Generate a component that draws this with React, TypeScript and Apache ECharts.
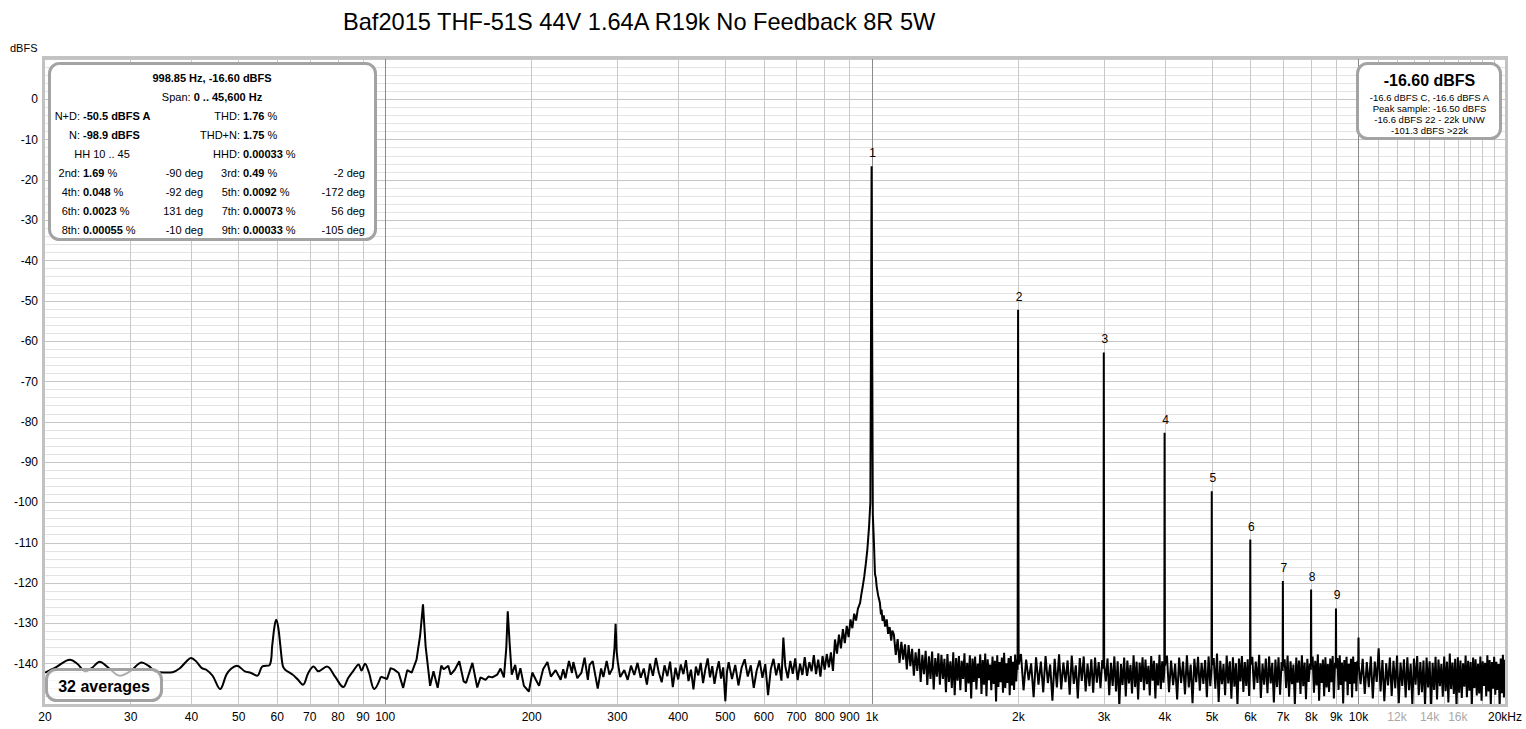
import React, { useEffect, useRef } from "react";
import * as echarts from "echarts";

// ---------------- data ----------------
const TITLE = "Baf2015 THF-51S 44V 1.64A R19k No Feedback 8R 5W";
const Y_NAME = "dBFS";
const Y_TICKS = [0, -10, -20, -30, -40, -50, -60, -70, -80, -90, -100, -110, -120, -130, -140];

const X_LABEL_HZ = [20, 30, 40, 50, 60, 70, 80, 90, 100, 200, 300, 400, 500, 600, 700, 800, 900, 1000, 2000, 3000, 4000, 5000, 6000, 7000, 8000, 9000, 10000, 12000, 14000, 16000, 20000];
const X_LABEL_TEXT = ["20", "30", "40", "50", "60", "70", "80", "90", "100", "200", "300", "400", "500", "600", "700", "800", "900", "1k", "2k", "3k", "4k", "5k", "6k", "7k", "8k", "9k", "10k", "12k", "14k", "16k", "20kHz"];
const X_LABEL_DIM = ["12k", "14k", "16k"];

const GRID_MINOR_HZ = [30, 40, 50, 60, 70, 80, 90, 200, 300, 400, 500, 600, 700, 800, 900, 2000, 3000, 4000, 5000, 6000, 7000, 8000, 9000, 11000, 12000, 13000, 14000, 15000, 16000, 17000, 18000, 19000];
const GRID_DECADE_HZ = [100, 1000, 10000];

// harmonics (peak frequency, peak level)
const HARM_FREQ = [998.85, 1997.7, 2996.6, 3995.4, 4994.3, 5993.1, 6992, 7990.8, 8989.7];
const HARM_DB = [-16.6, -52.2, -62.8, -82.7, -97.2, -109.2, -119.5, -121.6, -126.3];
const HARM_LABELS = ["1", "2", "3", "4", "5", "6", "7", "8", "9"];

// spectrum [Hz, dBFS]
const LF = [[20, -142.2], [21, -141.0], [22.5, -139.0], [23.3, -140.0], [24.2, -141.9], [25, -141.0], [25.9, -139.5], [27, -141.0], [28.5, -143.0], [30, -141.8], [31.6, -139.7], [32.6, -140.5], [33.7, -141.9], [34.4, -142.1], [35.5, -142.2], [36.6, -142.1], [37.8, -141.2], [39, -139.5], [39.9, -138.6], [40.8, -139.3], [42, -141.1], [42.9, -141.5], [44.2, -143.0], [45.8, -146.3], [47.2, -142.7], [48.3, -141.2], [49.6, -140.5], [51.5, -141.9], [53, -142.3], [54.6, -143.0], [55.9, -140.7], [57.9, -140.3], [58.6, -135.5], [59.2, -131], [59.7, -129.1], [60.3, -131], [60.9, -135.5], [61.6, -140.5], [62.3, -141.5], [64.5, -142.7], [66, -143.8], [67.8, -145.2], [69.5, -142.3], [71.3, -140.7], [72.9, -141.9], [75.9, -140.7], [78.9, -143.2], [82, -145.8], [84, -143.5], [86.1, -141.7], [88.2, -140.2], [89.4, -141.7], [90.9, -140.0], [92.5, -142.0], [95, -146.3], [98, -143.2]];

const MF_A = [[100.9, -143.8], [102.6, -141.1], [104.2, -141.4], [106.6, -142.3], [108.9, -146.0], [111, -141.6], [113.4, -142.2], [116, -139.0], [118, -133], [119.6, -125.3], [121.1, -135.7], [123.7, -145.5], [125.7, -141.9], [128.2, -146.0], [130.4, -140.5], [132, -141.4], [134.8, -140.5], [136.3, -142.7], [139, -141.5], [142, -139.4], [145, -144.4], [146.6, -144.8], [151.1, -139.8], [154.6, -145.9], [157, -143.4], [160.8, -144.0], [163, -143.2], [166, -143.4], [170, -142.7], [172.6, -141.2], [175.4, -143.4], [177.4, -136], [178.6, -127.0], [180.2, -134.9], [182, -142.7], [185, -140.3], [187.1, -144.0], [189.6, -141.1], [192.8, -145.5], [197.4, -146.9], [200.6, -142.2], [204, -144.0], [207.1, -145.5], [211.1, -141.4], [215.5, -139.6], [219, -143.2], [224, -141.6], [229.4, -144.0], [232.2, -141.4], [234.6, -143.6], [238.6, -139.3], [242, -142.3], [243.6, -139.6], [248.2, -143.6], [253, -142.3], [256.9, -138.5], [260.9, -144.0], [263, -140.3], [267, -139.4], [273.4, -146.2], [277.8, -141.2], [280.8, -143.3], [285.2, -139.3], [288.9, -142.7], [293.4, -141.1], [296, -136], [297.5, -130.1], [299, -137], [300.5, -139.5], [304, -143.3], [310, -141.6], [315, -144.0]];

const MF_B = [[320, -140.5], [325, -142.8], [330, -139.8], [335, -143.5], [340, -141.2], [345, -145.2], [350, -140.0], [355, -143.0], [360, -138.6], [365, -142.2], [370, -144.6], [375, -140.4], [380, -143.1], [385, -139.5], [390, -145.8], [395, -141.0], [400, -143.9], [405, -140.2], [410, -142.6], [415, -139.1], [420, -144.3], [425, -141.5], [430, -146.4], [435, -140.7], [440, -142.9], [445, -139.8], [450, -144.8], [455, -141.3], [460, -138.7], [465, -143.4], [470, -140.6], [475, -145.0], [480, -141.8], [485, -139.4], [490, -143.7], [495, -140.9], [500, -149.3], [504, -142.0], [508, -139.6], [516, -143.8], [524, -140.3], [532, -145.4], [540, -141.0], [548, -138.9], [556, -143.2], [564, -140.4], [572, -146.0], [580, -141.7], [588, -139.2], [596, -143.5], [604, -140.1], [612, -147.8], [620, -141.4], [628, -138.8], [636, -142.9], [644, -139.9], [652, -144.2], [658, -133.5], [664, -140.6], [672, -143.6], [680, -139.3], [688, -142.5], [696, -138.7], [704, -144.1], [712, -140.0], [720, -142.8], [728, -138.4], [736, -143.0], [744, -139.6], [752, -141.9], [760, -137.9], [768, -142.6], [776, -139.0], [784, -143.2], [792, -138.1], [800, -141.5], [808, -137.6], [816, -140.9], [824, -137.2], [832, -141.8], [840, -134.0], [848, -137.5], [856, -132.8], [864, -136.2], [872, -131.4], [880, -134.9], [888, -130.6], [896, -133.4], [904, -129.0], [912, -131.2], [920, -127.6], [928, -129.3], [936, -126.4], [946, -124.9], [952, -122.7], [958, -120.8], [965, -118.3], [972, -115.2], [979, -111.7], [987, -106], [993, -100], [996, -60], [1001.7, -60], [1004.7, -103], [1010, -110], [1015, -117.8], [1019, -118.6], [1023, -120.8], [1030, -123.0], [1039, -124.9], [1044, -127.8], [1047, -126.6], [1052, -129.4], [1058, -128.0], [1065, -130.8], [1073, -129.0], [1080, -132.6], [1088, -130.9], [1096, -134.3], [1102, -131.8]];

const HF_A = [[1110, -132.8], [1120, -137.8], [1130, -133.9], [1140, -139.8], [1150, -134.6], [1160, -139.0], [1170, -135.2], [1180, -141.4], [1190, -135.4], [1200, -140.6],
[1210, -136.3], [1220, -143.0], [1230, -137.2], [1240, -141.8], [1250, -136.3], [1260, -144.5], [1270, -137.8], [1280, -142.6], [1290, -136.8], [1300, -145.3],
[1310, -138.2], [1320, -143.8], [1330, -137.0], [1340, -146.4], [1350, -138.6], [1360, -143.2], [1370, -137.4], [1380, -145.2], [1390, -137.8], [1400, -143.8],
[1410, -138.8], [1420, -147.1], [1430, -137.6], [1440, -144.5], [1450, -139.4], [1460, -146.0], [1470, -137.2], [1480, -147.8], [1490, -138.6], [1500, -144.2],
[1510, -138.1], [1520, -146.6], [1530, -139.3], [1540, -143.8], [1550, -137.4], [1560, -147.0], [1570, -139.8], [1580, -144.9], [1590, -137.9], [1600, -148.6],
[1610, -138.7], [1620, -144.5], [1630, -138.2], [1640, -146.4], [1650, -140.0], [1660, -143.6], [1670, -137.7], [1680, -147.5], [1690, -139.1], [1700, -145.2],
[1710, -137.5], [1720, -148.1], [1730, -138.9], [1740, -144.1], [1750, -140.2], [1760, -146.6], [1770, -138.2], [1780, -145.0], [1790, -139.3], [1800, -149.4],
[1810, -137.9], [1820, -145.8], [1830, -139.6], [1840, -144.6], [1850, -138.5], [1860, -147.2], [1870, -137.3], [1880, -146.0], [1890, -139.9], [1900, -144.8],
[1910, -138.6], [1920, -147.8], [1930, -138.1], [1940, -145.4], [1950, -139.5], [1960, -146.5], [1970, -137.7], [1980, -144.4], [1990, -139.0], [1993, -141.5], [2003, -140.2]];

const HF_B = [[2025, -137.6], [2050, -146.6], [2075, -139.0], [2100, -144.1], [2125, -139.9], [2150, -148.3], [2175, -138.4], [2200, -145.2], [2225, -139.5], [2250, -147.1],
[2275, -138.1], [2300, -144.8], [2325, -140.2], [2350, -149.2], [2375, -138.8], [2400, -145.9], [2425, -137.7], [2450, -146.4], [2475, -139.7], [2500, -144.6],
[2525, -139.2], [2550, -147.7], [2575, -138.0], [2600, -145.0], [2625, -140.4], [2650, -148.6], [2675, -138.6], [2700, -144.3], [2725, -138.2], [2750, -146.9],
[2775, -140.0], [2800, -145.6], [2825, -138.9], [2850, -147.2], [2875, -138.5], [2900, -144.7], [2925, -139.6], [2950, -146.1], [2975, -139.1], [2992, -141.2], [3002, -140.1],
[3025, -144.4], [3050, -138.7], [3075, -147.8], [3100, -139.8], [3125, -145.5], [3150, -138.2], [3175, -146.9], [3200, -139.4], [3225, -150.5], [3250, -140.1],
[3275, -145.3], [3300, -138.5], [3325, -148.1], [3350, -139.2], [3375, -144.9], [3400, -140.3], [3425, -147.4], [3450, -137.9], [3475, -145.8], [3500, -139.5],
[3525, -148.9], [3550, -139.7], [3575, -144.5], [3600, -138.4], [3625, -146.6], [3650, -139.0], [3675, -145.1], [3700, -140.5], [3725, -147.9], [3750, -138.1],
[3775, -144.2], [3800, -139.3], [3825, -148.6], [3850, -139.9], [3875, -145.4], [3900, -137.8], [3925, -146.3], [3950, -139.4], [3975, -144.7], [3990, -141.6], [4001, -140.5]];

const HF_C = [[4040, -138.0], [4080, -147.1], [4120, -139.2], [4160, -145.3], [4200, -140.0], [4240, -148.9], [4280, -138.5], [4320, -144.8], [4360, -139.5], [4400, -147.6],
[4440, -137.9], [4480, -145.9], [4520, -140.2], [4560, -149.8], [4600, -138.8], [4640, -144.6], [4680, -138.3], [4720, -146.7], [4760, -139.8], [4800, -145.0],
[4840, -139.1], [4880, -148.3], [4920, -138.2], [4960, -145.6], [4988, -141.4], [5001, -140.3],
[5040, -138.6], [5080, -146.2], [5120, -137.5], [5160, -149.5], [5200, -139.3], [5240, -145.1], [5280, -140.1], [5320, -147.8], [5360, -138.0], [5400, -144.9],
[5440, -139.4], [5480, -148.7], [5520, -138.4], [5560, -145.7], [5600, -139.9], [5640, -150.3], [5680, -138.7], [5720, -144.4], [5760, -138.1], [5800, -147.0],
[5840, -139.6], [5880, -145.5], [5920, -138.9], [5960, -148.0], [5986, -141.1], [6000, -140.2],
[6050, -138.3], [6100, -146.4], [6150, -139.5], [6200, -144.8], [6250, -137.8], [6300, -148.5], [6350, -140.0], [6400, -145.2], [6450, -138.7], [6500, -147.3],
[6550, -138.2], [6600, -144.9], [6650, -139.8], [6700, -149.6], [6750, -139.0], [6800, -145.8], [6850, -138.4], [6900, -147.7], [6950, -139.6], [6984, -141.8], [7000, -140.7],
[7050, -138.9], [7100, -146.0], [7150, -138.0], [7200, -148.2], [7250, -139.4], [7300, -145.1], [7350, -140.2], [7400, -150.2], [7450, -138.5], [7500, -144.7],
[7550, -139.2], [7600, -147.5], [7650, -137.9], [7700, -145.6], [7750, -139.7], [7800, -148.8], [7850, -138.8], [7900, -144.5], [7950, -140.0], [7982, -141.5], [7999, -140.4],
[8050, -138.2], [8100, -147.2], [8150, -139.3], [8200, -145.4], [8250, -137.7], [8300, -149.2], [8350, -139.9], [8400, -144.8], [8450, -139.0], [8500, -148.1],
[8550, -138.4], [8600, -145.9], [8650, -140.1], [8700, -147.0], [8750, -138.7], [8800, -144.6], [8850, -138.1], [8900, -148.6], [8950, -139.8], [8980, -141.2], [8999, -140.2],
[9050, -138.6], [9100, -146.5], [9150, -137.9], [9200, -145.3], [9250, -139.7], [9300, -149.9], [9350, -139.1], [9400, -144.4], [9450, -138.3], [9500, -147.8],
[9550, -140.0], [9600, -145.0], [9650, -138.8], [9700, -148.4], [9750, -138.2], [9800, -144.9], [9850, -139.6], [9900, -146.8], [9950, -139.3], [9985, -141.3], [10000, -133.5], [10015, -140.6]];

const HF_D = [[10100, -145.1], [10200, -138.8], [10300, -147.5], [10400, -139.6], [10500, -145.8], [10600, -138.2], [10700, -148.6], [10800, -139.5], [10900, -144.5], [11000, -136.2],
[11100, -146.9], [11200, -139.1], [11300, -149.3], [11400, -139.9], [11500, -145.4], [11600, -138.5], [11700, -148.0], [11800, -139.3], [11900, -146.1], [12000, -138.0],
[12100, -149.8], [12200, -139.7], [12300, -145.5], [12400, -138.9], [12500, -148.4], [12600, -138.4], [12700, -146.6], [12800, -140.0], [12900, -150.2], [13000, -138.7],
[13100, -145.2], [13200, -138.1], [13300, -147.8], [13400, -139.6], [13500, -147.1], [13600, -139.2], [13700, -150.4], [13800, -138.5], [13900, -145.9], [14000, -139.4],
[14100, -151.0], [14200, -139.8], [14300, -146.5], [14400, -138.3], [14500, -148.9], [14600, -139.0], [14700, -145.6], [14800, -140.1], [14900, -148.2], [15000, -138.2],
[15100, -146.8], [15200, -139.5], [15300, -149.6], [15400, -137.5], [15500, -146.3], [15600, -139.7], [15700, -147.5], [15800, -138.8], [15900, -150.6], [16000, -138.4],
[16100, -147.2], [16200, -139.2], [16300, -148.5], [16400, -139.9], [16500, -145.7], [16600, -138.0], [16700, -148.3], [16800, -139.3], [16900, -146.7], [17000, -139.6],
[17100, -150.0], [17200, -138.5], [17300, -146.0], [17400, -138.9], [17500, -147.9], [17600, -140.0], [17700, -147.4], [17800, -138.2], [17900, -149.2], [18000, -139.4],
[18100, -145.5], [18200, -139.8], [18300, -148.1], [18400, -137.9], [18500, -146.9], [18600, -139.1], [18700, -150.4], [18800, -139.6], [18900, -146.2], [19000, -138.3],
[19100, -147.7], [19200, -139.5], [19300, -146.5], [19400, -140.1], [19500, -151.0], [19600, -138.7], [19700, -147.3], [19800, -137.8], [19900, -148.4], [20000, -139.0]];

// info box texts
const INFO_HEAD = "998.85 Hz, -16.60 dBFS";
const INFO_SPAN = "0 .. 45,600 Hz";
const INFO_ND = "-50.5 dBFS A";
const INFO_N = "-98.9 dBFS";
const INFO_THD = "1.76";
const INFO_THDN = "1.75";
const INFO_HH = "HH 10 .. 45";
const INFO_HHD = "0.00033";
const ORD_NAMES = ["2nd", "3rd", "4th", "5th", "6th", "7th", "8th", "9th"];
const ORD_PCT = ["1.69", "0.49", "0.048", "0.0092", "0.0023", "0.00073", "0.00055", "0.00033"];
const ORD_DEG = [-90, -2, -92, -172, 131, 56, -10, -105];
const LEVEL_BIG = "-16.60 dBFS";
const LEVEL_LINES = ["-16.6 dBFS C, -16.6 dBFS A", "Peak sample: -16.50 dBFS", "-16.6 dBFS 22 - 22k UNW", "-101.3 dBFS >22k"];
const AVERAGES = "32 averages";

// ---------------- chart ----------------
const FONT = "'Liberation Sans', Arial, Helvetica, sans-serif";

const RICH = {
  b: { fontFamily: FONT, fontSize: 11, fontWeight: "bold", fill: "#000" },
  n: { fontFamily: FONT, fontSize: 11, fontWeight: "normal", fill: "#000" },
};

function txt(x: number, y: number, text: string, align = "left", size = 11, weight = "normal", color = "#000") {
  return {
    type: "text",
    x,
    y,
    z: 120,
    silent: true,
    style: {
      text,
      fill: color,
      font: `${weight} ${size}px ${FONT}`,
      align,
      verticalAlign: "middle",
      textAlign: align,
      textVerticalAlign: "middle",
      rich: RICH,
    },
  };
}

function box(x: number, y: number, w: number, h: number, fill: string) {
  return {
    type: "rect",
    z: 110,
    silent: true,
    shape: { x, y, width: w, height: h, r: 10 },
    style: { fill, stroke: "#a3a3a3", lineWidth: 3 },
  };
}

function buildOption() {
  const harmPoints = HARM_FREQ.map((f, i) => [f, HARM_DB[i]]);
  const rest = [LF[LF.length - 1], ...MF_A, ...MF_B, ...HF_A, ...HF_B, ...HF_C, ...HF_D, ...harmPoints].sort(
    (a, b) => a[0] - b[0]
  );

  const gridLines = [
    ...GRID_MINOR_HZ.map((f) => ({ xAxis: f, lineStyle: { color: "#c8c8c8", width: 1, type: "solid" } })),
    ...GRID_DECADE_HZ.map((f) => ({ xAxis: f, lineStyle: { color: "#8a8a8a", width: 1, type: "solid" } })),
  ];

  const graphics: any[] = [];
  graphics.push(txt(343, 21.5, TITLE, "left", 23.6));
  graphics.push(txt(10, 48, Y_NAME, "left", 11));
  graphics.push({
    type: "rect",
    z: 60,
    silent: true,
    shape: { x: 43.5, y: 57.5, width: 1463, height: 648 },
    style: { fill: "none", stroke: "#c2c2c2", lineWidth: 3 },
  });

  // harmonic number labels, placed through the axes' scales
  const harmLabelGraphics = (chart: any) =>
    HARM_FREQ.map((f, i) => {
      const p = chart.convertToPixel({ gridIndex: 0 }, [f, HARM_DB[i]]);
      return txt(p[0] + 1, p[1] - 13, HARM_LABELS[i], "center", 12);
    });

  // left info box
  graphics.push(box(49.5, 63.5, 326, 176, "#ffffff"));
  graphics.push(txt(212, 78, `{b|${INFO_HEAD}}`, "center"));
  graphics.push(txt(212, 97, `{n|Span: }{b|${INFO_SPAN}}`, "center"));
  graphics.push(txt(80, 116, "N+D:", "right"));
  graphics.push(txt(83, 116, `{b|${INFO_ND}}`, "left"));
  graphics.push(txt(240, 116, "THD:", "right"));
  graphics.push(txt(243, 116, `{b|${INFO_THD}}{n| %}`, "left"));
  graphics.push(txt(80, 134.5, "N:", "right"));
  graphics.push(txt(83, 134.5, `{b|${INFO_N}}`, "left"));
  graphics.push(txt(240, 134.5, "THD+N:", "right"));
  graphics.push(txt(243, 134.5, `{b|${INFO_THDN}}{n| %}`, "left"));
  graphics.push(txt(102, 153.5, INFO_HH, "center"));
  graphics.push(txt(240, 153.5, "HHD:", "right"));
  graphics.push(txt(243, 153.5, `{b|${INFO_HHD}}{n| %}`, "left"));
  for (let r = 0; r < 4; r++) {
    const y = 172.5 + 19 * r;
    const i = 2 * r;
    const j = 2 * r + 1;
    graphics.push(txt(80, y, `${ORD_NAMES[i]}:`, "right"));
    graphics.push(txt(83, y, `{b|${ORD_PCT[i]}}{n| %}`, "left"));
    graphics.push(txt(203, y, `${ORD_DEG[i]} deg`, "right"));
    graphics.push(txt(240, y, `${ORD_NAMES[j]}:`, "right"));
    graphics.push(txt(243, y, `{b|${ORD_PCT[j]}}{n| %}`, "left"));
    graphics.push(txt(365, y, `${ORD_DEG[j]} deg`, "right"));
  }

  // right level box
  graphics.push(box(1357.5, 63.5, 143, 75, "#ffffff"));
  graphics.push(txt(1429.5, 80, LEVEL_BIG, "center", 16, "bold"));
  LEVEL_LINES.forEach((s, k) => {
    graphics.push(txt(1429.5, 97.7 + 10.8 * k, s, "center", 9.5));
  });

  // averages box
  graphics.push(box(46.5, 669.5, 115, 31, "rgba(255,255,255,0.68)"));
  graphics.push(txt(104, 686, AVERAGES, "center", 16, "bold"));

  const option = {
    animation: false,
    backgroundColor: "#ffffff",
    grid: { left: 45, right: 21, top: 59, bottom: 25, containLabel: false, outerBoundsMode: "none" },
    xAxis: {
      type: "log",
      logBase: 10,
      min: 20,
      max: 20000,
      axisLine: { show: false },
      axisTick: { show: false },
      splitLine: { show: false },
      minorTick: { show: false },
      minorSplitLine: { show: false },
      axisLabel: {
        customValues: X_LABEL_HZ,
        margin: 7,
        fontSize: 12,
        fontFamily: FONT,
        color: "#000",
        formatter: (v: number) => {
          const idx = X_LABEL_HZ.findIndex((f) => Math.abs(f - v) / f < 1e-4);
          if (idx < 0) return "";
          const s = X_LABEL_TEXT[idx];
          return X_LABEL_DIM.includes(s) ? `{dim|${s}}` : s;
        },
        rich: { dim: { color: "#a8a8a8", fontSize: 12, fontFamily: FONT } },
      },
    },
    yAxis: {
      type: "value",
      min: -150,
      max: 10,
      interval: 10,
      axisLine: { show: false },
      axisTick: { show: false },
      axisLabel: {
        margin: 7,
        fontSize: 12,
        fontFamily: FONT,
        color: "#000",
        formatter: (v: number) => (Y_TICKS.includes(Math.round(v)) ? String(Math.round(v)) : ""),
      },
      splitLine: { show: true, lineStyle: { color: "#c6c6c6", width: 1 } },
      minorTick: { show: false, splitNumber: 5 },
      minorSplitLine: { show: true, lineStyle: { color: "#e3e3e3", width: 1 } },
    },
    series: [
      {
        type: "line",
        name: "lf",
        data: LF,
        symbol: "none",
        showSymbol: false,
        smooth: 0.35,
        lineStyle: { color: "#000", width: 2 },
        z: 3,
        silent: true,
        markLine: {
          silent: true,
          z: 1,
          symbol: ["none", "none"],
          label: { show: false },
          emphasis: { disabled: true },
          data: gridLines,
        },
      },
      {
        type: "line",
        name: "spectrum",
        data: rest,
        symbol: "none",
        showSymbol: false,
        lineStyle: { color: "#000", width: 2 },
        z: 3,
        silent: true,
      },
    ],
    graphic: { elements: graphics },
  };
  return { option, harmLabelGraphics, graphics };
}

export default function App() {
  const ref = useRef<HTMLDivElement>(null);
  useEffect(() => {
    if (!ref.current) return;
    const chart = echarts.init(ref.current, null, { renderer: "svg" });
    const { option, harmLabelGraphics, graphics } = buildOption();
    chart.setOption(option as any);
    chart.setOption({ graphic: { elements: [...graphics, ...harmLabelGraphics(chart)] } } as any, { replaceMerge: ["graphic"] });
    return () => chart.dispose();
  }, []);
  return <div ref={ref} style={{ position: "fixed", left: 0, top: 0, width: 1526, height: 729 }} />;
}
